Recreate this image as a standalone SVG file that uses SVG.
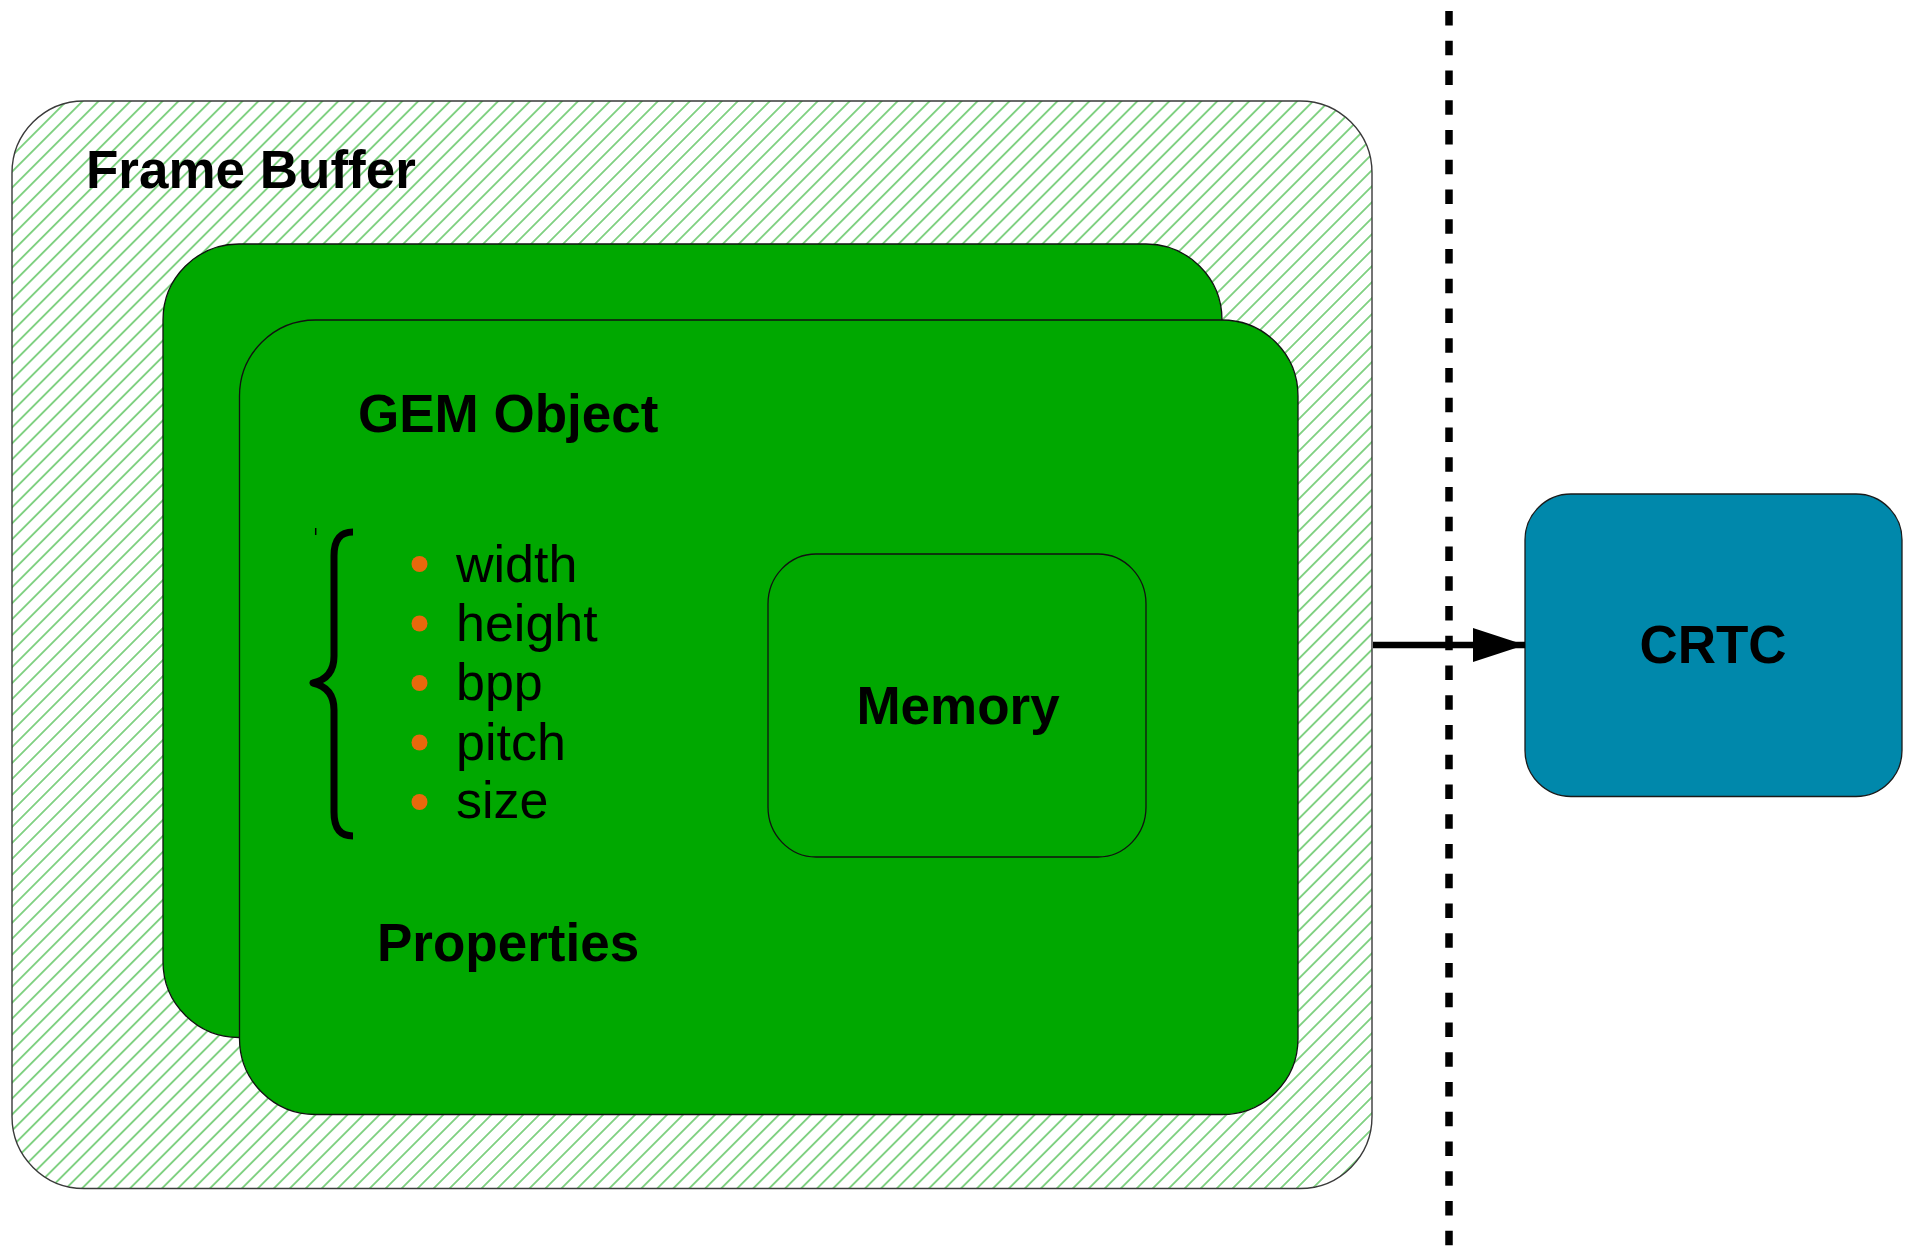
<svg xmlns="http://www.w3.org/2000/svg" width="1914" height="1246" viewBox="0 0 1914 1246">
  <defs>
    <!-- diagonal green hatching for the frame buffer container -->
    <pattern id="hatch" patternUnits="userSpaceOnUse" width="11.3" height="20" patternTransform="rotate(45)">
      <line x1="5.65" y1="0" x2="5.65" y2="20" stroke="#36b63a" stroke-width="1.2"/>
    </pattern>
    <marker id="arrowhead" markerUnits="userSpaceOnUse" markerWidth="52" markerHeight="34" refX="52" refY="17" orient="auto">
      <path d="M0,0 L52,17 L0,34 Z" fill="#000"/>
    </marker>
    <style>
      .title { font-family: "Liberation Sans", Arial, sans-serif; font-weight: bold; font-size: 53px; fill: #000; }
      .item { font-family: "Liberation Sans", Arial, sans-serif; font-size: 52px; fill: #000; }
      .gem { fill: #00a800; stroke: #111; stroke-width: 1.3; }
      .bullet { fill: #e8680c; }
    </style>
  </defs>

  <rect width="1914" height="1246" fill="#fff"/>

  <!-- boundary between buffer side and display side -->
  <g id="boundary">
    <line x1="1449" y1="11" x2="1449" y2="1246" stroke="#000" stroke-width="7.5" stroke-dasharray="14.5 15.25"/>
  </g>

  <g id="frame-buffer">
    <rect x="12" y="101" width="1360" height="1087.5" rx="72" ry="72" fill="url(#hatch)" stroke="#3a3a3a" stroke-width="1.4"/>
    <text class="title" x="86" y="188">Frame Buffer</text>
  </g>

  <g id="gem-object-back">
    <rect class="gem" x="163" y="244" width="1059" height="793.5" rx="76" ry="76"/>
  </g>

  <g id="gem-object">
    <rect class="gem" x="239.5" y="320" width="1058.5" height="794.5" rx="76" ry="76"/>
    <text class="title" x="358" y="431.5">GEM Object</text>

    <g id="properties">
      <line x1="315.7" y1="528" x2="315.7" y2="535" stroke="#000" stroke-width="1.5"/>
      <path d="M353,532 C340,532 334,540 334,556 L334,656 C334,672 326,680 313,683 C326,686 334,694 334,710 L334,812 C334,828 340,836 353,836" fill="none" stroke="#000" stroke-width="7" stroke-linejoin="round"/>
      <circle class="bullet" cx="419.5" cy="564" r="8"/>
      <circle class="bullet" cx="419.5" cy="623.5" r="8"/>
      <circle class="bullet" cx="419.5" cy="683" r="8"/>
      <circle class="bullet" cx="419.5" cy="742.5" r="8"/>
      <circle class="bullet" cx="419.5" cy="802" r="8"/>
      <text class="item" x="456" y="582">width</text>
      <text class="item" x="456" y="641">height</text>
      <text class="item" x="456" y="700">bpp</text>
      <text class="item" x="456" y="759.5">pitch</text>
      <text class="item" x="456" y="818">size</text>
      <text class="title" x="377" y="961">Properties</text>
    </g>

    <g id="memory">
      <rect x="768" y="554" width="378" height="303" rx="48" ry="50" fill="#00a800" stroke="#111" stroke-width="1.3"/>
      <text class="title" x="958" y="724" text-anchor="middle">Memory</text>
    </g>
  </g>

  <g id="crtc">
    <rect x="1525" y="494" width="377" height="302.5" rx="46" ry="46" fill="#0088ab" stroke="#1a1a1a" stroke-width="1.3"/>
    <text class="title" x="1713" y="663" text-anchor="middle">CRTC</text>
  </g>

  <g id="connectors">
    <line x1="1373" y1="645" x2="1525" y2="645" stroke="#000" stroke-width="6.5" marker-end="url(#arrowhead)"/>
  </g>
</svg>
